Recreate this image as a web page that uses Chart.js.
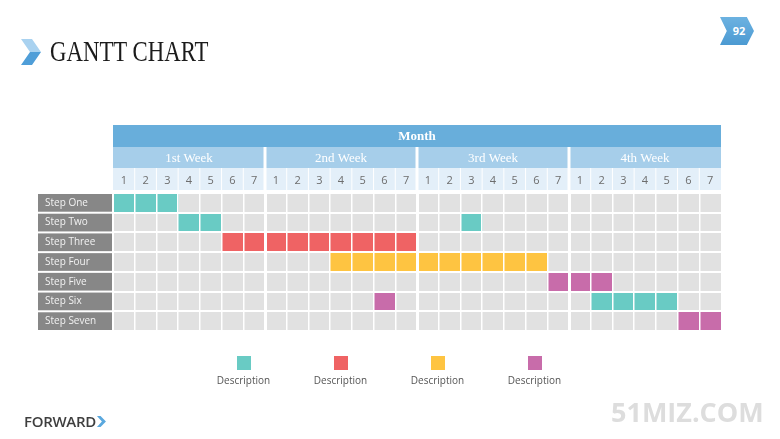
<!DOCTYPE html>
<html>
<head>
<meta charset="utf-8">
<script src="https://cdn.jsdelivr.net/npm/chart.js@4.4.1/dist/chart.umd.min.js"></script>
<style>
  body { margin: 0; background: #fff; }
  #page { position: relative; width: 780px; height: 439px; overflow: hidden; font-family: 'Open Sans', sans-serif; }
  #ganttChart { position: absolute; left: 0; top: 0; }
  .title-arrow { position: absolute; left: 21px; top: 39px; width: 20px; height: 26px;
    background: linear-gradient(#a9d2f0 0%, #a9d2f0 50%, #4f9ed8 50%, #4f9ed8 100%);
    clip-path: polygon(0 0, 55% 0, 100% 50%, 55% 100%, 0 100%, 45% 50%); }
  .title { position: absolute; left: 50px; top: 36px; font-family: 'Liberation Serif', serif; font-size: 30px;
    line-height: 30px; color: #1b1b1b; transform: scaleX(0.76); transform-origin: left top; white-space: nowrap; }
  .badge { position: absolute; left: 720px; top: 17px; width: 34px; height: 28px;
    background: linear-gradient(#6cb2e1, #4c9ad2);
    clip-path: polygon(0 0, 79% 0, 100% 50%, 79% 100%, 0 100%, 20% 50%);
    color: #fff; font-weight: bold; font-size: 11px; line-height: 28px; text-align: center; text-indent: 4px; }
  #legend { position: absolute; left: 195px; top: 356px; display: flex; }
  .legend-item { width: 97px; display: flex; flex-direction: column; align-items: center; }
  .legend-box { width: 14px; height: 14px; }
  .legend-text { margin-top: 3px; font-size: 10px; color: #555; }
  .logo { position: absolute; left: 24px; top: 411px; font-size: 15px; font-weight: 600; color: #3e3e3e; letter-spacing: -0.3px; }
  .logo-arrow { display: inline-block; width: 9px; height: 11px; margin-left: 1px; background: #5aa8de;
    clip-path: polygon(0 0, 40% 0, 100% 50%, 40% 100%, 0 100%, 55% 50%); }
  .watermark { position: absolute; left: 611px; top: 393px; font-size: 27px; font-weight: bold; color: #dddddd; }
</style>
</head>
<body>
<div id="page">
  <canvas id="ganttChart" width="780" height="439"></canvas>
  <div class="title-arrow"></div>
  <div class="title">GANTT CHART</div>
  <div class="badge">92</div>
  <div id="legend"></div>
  <div class="logo">FORWARD<span class="logo-arrow"></span></div>
  <div class="watermark">51MIZ.COM</div>
</div>
<script>
const steps = ['Step One', 'Step Two', 'Step Three', 'Step Four', 'Step Five', 'Step Six', 'Step Seven'];
const weeks = ['1st Week', '2nd Week', '3rd Week', '4th Week'];
const dayLabels = ['1', '2', '3', '4', '5', '6', '7'];
const monthLabel = 'Month';
const daysPerWeek = 7;
const totalDays = weeks.length * daysPerWeek;

// task spans as [step, start day, end day] (day 0 = start of 1st week)
const tealTasks = [['Step One', 0, 3], ['Step Two', 3, 5], ['Step Two', 16, 17], ['Step Six', 22, 26]];
const redTasks = [['Step Three', 5, 14]];
const yellowTasks = [['Step Four', 10, 20]];
const pinkTasks = [['Step Five', 20, 23], ['Step Six', 12, 13], ['Step Seven', 26, 28]];
const legendLabels = ['Description', 'Description', 'Description', 'Description'];

function toBars(tasks) {
    return tasks.map(t => ({ y: t[0], x: [t[1], t[2]] }));
}

// header bands, label boxes and separators behind the scales
const ganttFrame = {
    id: 'ganttFrame',
    beforeDraw(chart) {
        const { ctx, chartArea, scales } = chart;
        const x = scales.x, y = scales.y;
        const month = scales.xMonth, week = scales.xWeeks, day = scales.xDays;
        ctx.save();
        ctx.fillStyle = '#68aedb';
        ctx.fillRect(month.left, month.top, month.width, month.height);
        ctx.fillStyle = '#a6ceea';
        ctx.fillRect(week.left, week.top, week.width, week.height);
        ctx.fillStyle = '#e3eff9';
        ctx.fillRect(day.left, day.top, day.width, day.height - 3);

        ctx.strokeStyle = '#ffffff';
        for (let d = 1; d < totalDays; d++) {
            const px = x.getPixelForValue(d);
            const weekEdge = d % daysPerWeek === 0;
            ctx.lineWidth = weekEdge ? 3 : 1;
            ctx.beginPath();
            ctx.moveTo(px, weekEdge ? week.top : day.top);
            ctx.lineTo(px, day.bottom - 3);
            ctx.stroke();
        }

        const rowH = y.height / steps.length;
        const boxLeft = y.left - 7;
        ctx.fillStyle = '#878787';
        steps.forEach((s, i) => {
            const cy = y.getPixelForValue(i);
            ctx.fillRect(boxLeft, cy - rowH / 2 + 1, chartArea.left - 1 - boxLeft, rowH - 2);
        });
        ctx.restore();
    }
};

function renderGantt() {
    const ctx = document.getElementById('ganttChart').getContext('2d');
    const chart = new Chart(ctx, {
        type: 'bar',
        data: {
            datasets: [
                { label: legendLabels[0], data: toBars(tealTasks), backgroundColor: '#69cbc4' },
                { label: legendLabels[1], data: toBars(redTasks), backgroundColor: '#ef6364' },
                { label: legendLabels[2], data: toBars(yellowTasks), backgroundColor: '#fec441' },
                { label: legendLabels[3], data: toBars(pinkTasks), backgroundColor: '#c86caa' },
                { label: '', data: steps.map(s => ({ y: s, x: [0, totalDays] })), backgroundColor: '#e1e1e1', order: 1 }
            ]
        },
        options: {
            responsive: false,
            devicePixelRatio: 1,
            animation: false,
            indexAxis: 'y',
            datasets: {
                bar: { grouped: false, barPercentage: 1, categoryPercentage: 1, borderWidth: 0, borderSkipped: false, xAxisID: 'x', yAxisID: 'y' }
            },
            layout: { padding: { left: 45, right: 59, top: 125, bottom: 108 } },
            plugins: { legend: { display: false }, tooltip: { enabled: false } },
            scales: {
                x: {
                    type: 'linear', min: 0, max: totalDays, position: 'bottom',
                    afterBuildTicks(scale) {
                        scale.ticks = Array.from({ length: totalDays + 1 }, (_, i) => ({ value: i }));
                    },
                    ticks: { display: false },
                    grid: {
                        color: '#ffffff', z: 1, drawTicks: false,
                        lineWidth: c => (c.tick.value === 0 || c.tick.value === totalDays) ? 1 : (c.tick.value % daysPerWeek === 0 ? 3 : 1.5)
                    },
                    border: { display: false },
                    afterFit(scale) { scale.height = 0; }
                },
                y: {
                    type: 'category', labels: steps, offset: true,
                    grid: { color: '#ffffff', lineWidth: 2, z: 1, drawTicks: false, offset: true },
                    border: { display: false },
                    ticks: { crossAlign: 'far', color: '#f2f2f2', font: { family: 'Open Sans', size: 10 }, padding: 0 },
                    afterFit(scale) { scale.width = 68; }
                },
                xDays: {
                    type: 'category', axis: 'x', position: 'top', weight: 1, offset: true,
                    labels: weeks.flatMap(() => dayLabels),
                    grid: { display: false, drawTicks: false },
                    border: { display: false },
                    ticks: { color: '#6d6d6d', font: { family: 'Open Sans', size: 11 }, padding: 6, autoSkip: false, maxRotation: 0 },
                    afterFit(scale) { scale.height = 25; }
                },
                xWeeks: {
                    type: 'category', axis: 'x', position: 'top', weight: 2, offset: true,
                    labels: weeks,
                    grid: { display: false, drawTicks: false },
                    border: { display: false },
                    ticks: { color: '#ffffff', font: { family: 'Liberation Serif', size: 13 }, padding: 2, autoSkip: false, maxRotation: 0 },
                    afterFit(scale) { scale.height = 21; }
                },
                xMonth: {
                    type: 'category', axis: 'x', position: 'top', weight: 3, offset: true,
                    labels: [monthLabel],
                    grid: { display: false, drawTicks: false },
                    border: { display: false },
                    ticks: { color: '#ffffff', font: { family: 'Liberation Serif', size: 13, weight: 'bold' }, padding: 3, maxRotation: 0 },
                    afterFit(scale) { scale.height = 22; }
                }
            }
        },
        plugins: [ganttFrame]
    });

    // legend: colour box above the label
    const legend = document.getElementById('legend');
    chart.data.datasets.filter(d => d.label).forEach(d => {
        const item = document.createElement('div');
        item.className = 'legend-item';
        item.innerHTML = '<div class="legend-box" style="background:' + d.backgroundColor + '"></div>' +
            '<div class="legend-text">' + d.label + '</div>';
        legend.appendChild(item);
    });
}

renderGantt();
</script>
</body>
</html>
